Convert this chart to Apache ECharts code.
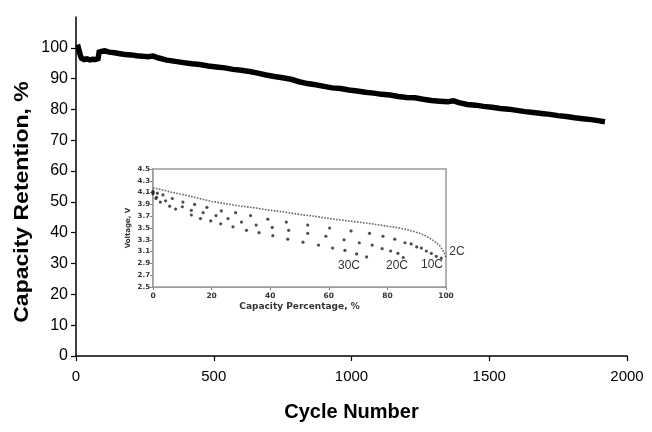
<!DOCTYPE html>
<html>
<head>
<meta charset="utf-8">
<script src="https://cdn.jsdelivr.net/npm/echarts@6/dist/echarts.min.js"></script>
<style>
html,body{margin:0;padding:0;background:#fff;}
#chart{width:652px;height:432px;}
</style>
</head>
<body>
<div id="chart"></div>
<script>
// ---- Main chart data ----
var cycles = [0,4,8,12,16,20,30,40,50,60,70,80,84,88,95,105,120,140,160,180,200,220,240,260,280,300,330,360,390,420,450,480,510,540,570,600,630,660,690,720,750,780,810,840,870,900,930,960,990,1020,1050,1080,1110,1140,1170,1200,1230,1260,1290,1320,1350,1370,1390,1420,1450,1480,1510,1540,1570,1600,1630,1660,1690,1720,1750,1780,1810,1840,1870,1900,1920];
var retention = [100.0,100.6,100.2,99.6,97.5,96.6,96.2,96.4,96.1,96.3,96.2,96.5,98.6,99.2,98.9,99.0,98.6,98.4,98.1,97.8,97.7,97.4,97.3,97.1,97.3,96.7,96.0,95.6,95.2,94.8,94.6,94.1,93.8,93.5,93.0,92.7,92.3,91.8,91.2,90.7,90.3,89.8,89.0,88.4,88.0,87.5,87.0,86.8,86.3,86.0,85.6,85.3,84.9,84.7,84.2,83.9,83.8,83.3,82.9,82.7,82.5,82.8,82.2,81.6,81.4,81.0,80.7,80.3,80.1,79.7,79.3,79.0,78.7,78.4,78.0,77.7,77.3,77.0,76.7,76.3,76.0];
var mainYTicks = [0,10,20,30,40,50,60,70,80,90,100];

// ---- Inset data ----
var cap2C  = [0,3,6,10,15,20,25,30,35,40,45,50,55,60,65,70,75,80,83,86,89,91,93,95,96.5,98,99.3,100];
var volt2C = [4.18,4.15,4.11,4.07,4.01,3.95,3.91,3.87,3.84,3.80,3.77,3.73,3.70,3.66,3.63,3.60,3.57,3.53,3.51,3.48,3.44,3.41,3.37,3.31,3.26,3.19,3.09,3.00];
var cap10C  = [0,1.5,3.4,6.6,10.2,14.2,18.4,23.3,28.2,33.3,39.2,45.5,52.8,60.3,67.6,73.9,78.5,82.5,86,88.1,90,91.6,93.3,95,96.7,98.4];
var volt10C = [4.12,4.09,4.06,4.00,3.94,3.90,3.85,3.79,3.76,3.71,3.65,3.60,3.55,3.50,3.45,3.41,3.36,3.31,3.25,3.23,3.18,3.16,3.11,3.07,3.02,2.99];
var cap20C  = [0,1.2,4.3,10.0,13.1,17.1,21.5,25.6,30.2,35.2,40.7,46.3,52.8,59.0,65.2,70.4,74.8,78.2,81.1,83.6,85.4];
var volt20C = [4.10,4.02,3.96,3.86,3.80,3.76,3.71,3.66,3.60,3.55,3.51,3.46,3.41,3.36,3.30,3.25,3.21,3.15,3.11,3.07,3.00];
var cap30C  = [0,1,2.5,5.7,7.7,13.1,16.2,19.7,23.1,27.3,31.9,36.2,40.9,46.0,51.2,56.5,61.3,65.5,69.5,72.9];
var volt30C = [4.08,4.00,3.94,3.87,3.82,3.72,3.66,3.62,3.57,3.52,3.46,3.42,3.37,3.31,3.26,3.21,3.16,3.12,3.06,3.01];
var rateLabels = ['2C','10C','20C','30C'];

function zip(a,b){ return a.map(function(v,i){ return [v,b[i]]; }); }

var chart = echarts.init(document.getElementById('chart'), null, {renderer:'canvas'});
var mainFont = 'Liberation Sans, Arial, sans-serif';
var insetFont = 'DejaVu Sans, Verdana, sans-serif';

var option = {
  backgroundColor:'#fff',
  animation:false,
  grid:[
    {left:76, right:25, top:17, bottom:76},
    {left:153, top:169, width:293, height:118, show:true, backgroundColor:'#fff', borderColor:'#9a9a9a', borderWidth:1.5, z:5}
  ],
  xAxis:[
    {gridIndex:0, type:'value', min:0, max:2000, interval:500,
     axisLine:{show:true, lineStyle:{color:'#000', width:1.5}},
     axisTick:{show:true, inside:false, length:5, lineStyle:{color:'#000', width:1.2}},
     splitLine:{show:false},
     axisLabel:{color:'#000', fontFamily:mainFont, fontSize:15, margin:13, formatter:function(v){ return String(v); }},
     name:'Cycle Number', nameLocation:'middle', nameGap:46,
     nameTextStyle:{color:'#000', fontFamily:mainFont, fontSize:20, fontWeight:'bold'}
    },
    {gridIndex:1, type:'value', min:0, max:100, interval:20,
     axisLine:{show:true, lineStyle:{color:'#808080', width:1.5}},
     axisTick:{show:true, length:3, lineStyle:{color:'#808080', width:1}},
     splitLine:{show:false},
     axisLabel:{color:'#333', fontFamily:insetFont, fontSize:7.5, fontWeight:'bold', margin:5},
     name:'Capacity Percentage, %', nameLocation:'middle', nameGap:15,
     nameTextStyle:{color:'#333', fontFamily:insetFont, fontSize:9, fontWeight:'bold'}
    }
  ],
  yAxis:[
    {gridIndex:0, type:'value', min:0, max:110, interval:10,
     axisLine:{show:true, lineStyle:{color:'#000', width:1.5}},
     axisTick:{show:true, length:5, customValues:mainYTicks, lineStyle:{color:'#000', width:1.2}},
     splitLine:{show:false},
     axisLabel:{color:'#000', fontFamily:mainFont, fontSize:16, margin:8, customValues:mainYTicks}
    },
    {gridIndex:1, type:'value', min:2.5, max:4.5, interval:0.2,
     axisLine:{show:true, lineStyle:{color:'#808080', width:1.5}},
     axisTick:{show:true, length:3, lineStyle:{color:'#808080', width:1}},
     splitLine:{show:false},
     axisLabel:{color:'#333', fontFamily:insetFont, fontSize:7, fontWeight:'bold', margin:3,
       formatter:function(v){ return (Math.round(v*10)/10).toFixed(1); }},
     name:'Voltage, V', nameLocation:'middle', nameGap:21, nameRotate:90,
     nameTextStyle:{color:'#333', fontFamily:insetFont, fontSize:7, fontWeight:'bold'}
    }
  ],
  series:[
    {type:'line', xAxisIndex:0, yAxisIndex:0, data:zip(cycles, retention), showSymbol:false, symbol:'none',
     lineStyle:{color:'#000', width:5.5, join:'miter'}, z:3},
    {type:'line', xAxisIndex:1, yAxisIndex:1, data:zip(cap2C, volt2C), showSymbol:false, symbol:'none', smooth:false,
     lineStyle:{color:'#666', width:1.6, type:[1.6,1.4]}, z:6},
    {type:'scatter', xAxisIndex:1, yAxisIndex:1, data:zip(cap10C, volt10C), symbolSize:3.2, itemStyle:{color:'#222'}, z:6},
    {type:'scatter', xAxisIndex:1, yAxisIndex:1, data:zip(cap20C, volt20C), symbolSize:3.2, itemStyle:{color:'#222'}, z:6},
    {type:'scatter', xAxisIndex:1, yAxisIndex:1, data:zip(cap30C, volt30C), symbolSize:3.2, itemStyle:{color:'#222'}, z:6}
  ],
  graphic:[
    {type:'text', x:22, y:202, rotation:Math.PI/2, scaleX:1.15, z:10,
     style:{text:'Capacity Retention, %', fill:'#000', font:'bold 20px '+mainFont, textAlign:'center', textVerticalAlign:'middle'}},
    {type:'text', x:457, y:252, z:10, style:{text:rateLabels[0], fill:'#333', font:'12px '+mainFont, textAlign:'center', textVerticalAlign:'middle'}},
    {type:'text', x:432, y:265, z:10, style:{text:rateLabels[1], fill:'#333', font:'12px '+mainFont, textAlign:'center', textVerticalAlign:'middle'}},
    {type:'text', x:397, y:266, z:10, style:{text:rateLabels[2], fill:'#333', font:'12px '+mainFont, textAlign:'center', textVerticalAlign:'middle'}},
    {type:'text', x:349, y:266, z:10, style:{text:rateLabels[3], fill:'#333', font:'12px '+mainFont, textAlign:'center', textVerticalAlign:'middle'}}
  ]
};
chart.setOption(option);
</script>
</body>
</html>
